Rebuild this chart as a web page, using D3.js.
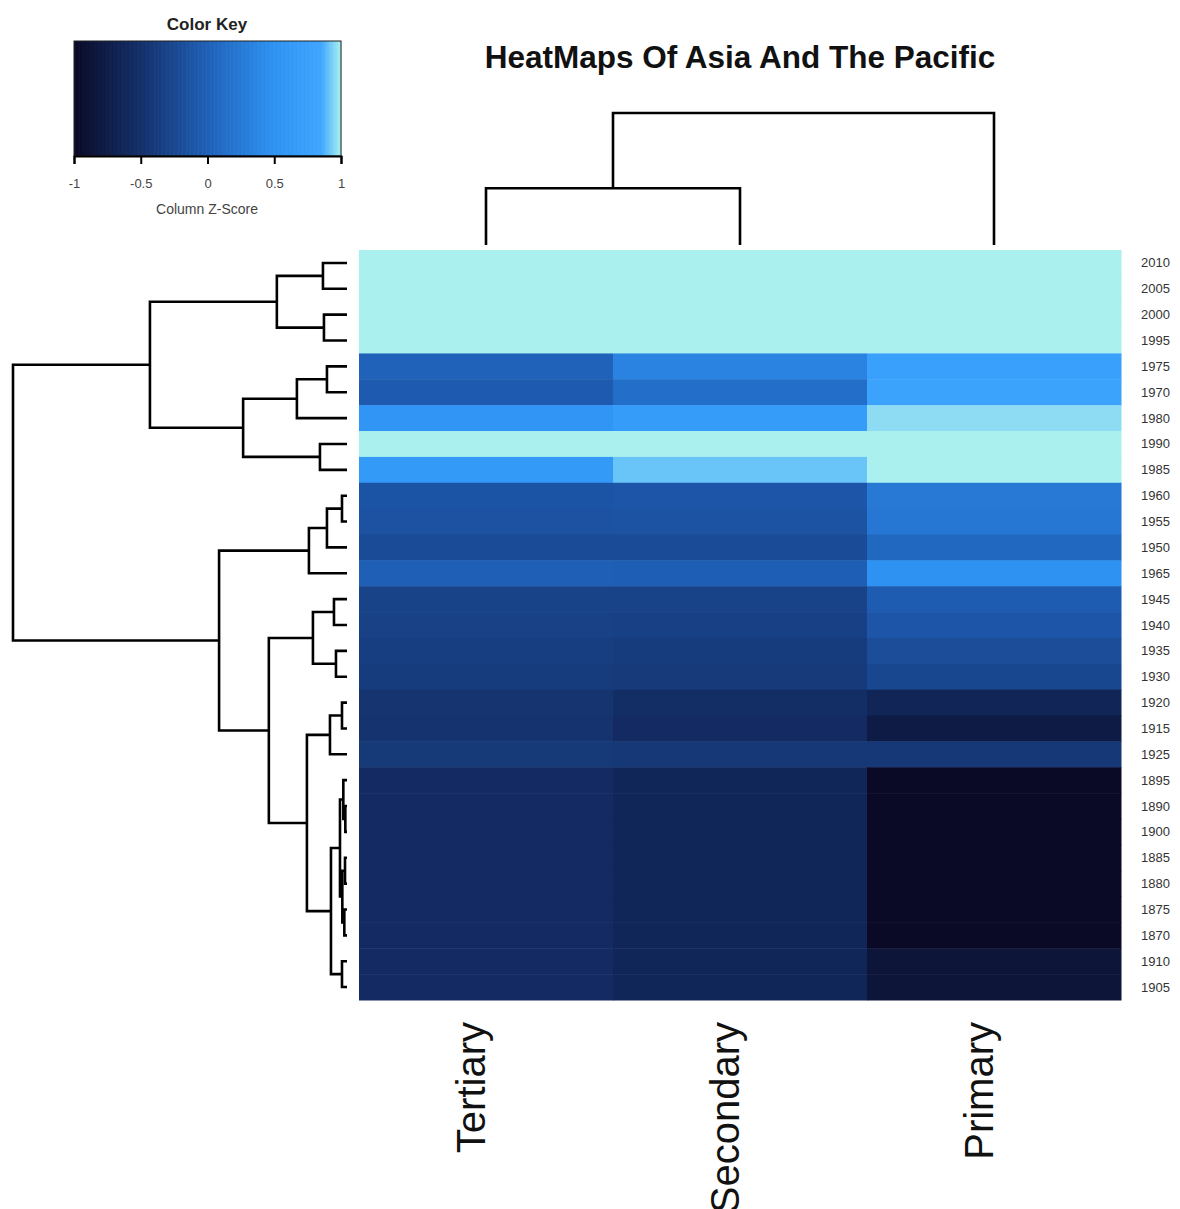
<!DOCTYPE html>
<html>
<head>
<meta charset="utf-8">
<script src="https://cdn.jsdelivr.net/npm/d3@7"></script>
<style>
  body { margin: 0; background: #fff; }
  text { font-family: "Liberation Sans", Arial, sans-serif; }
</style>
</head>
<body>
<div id="chart"></div>
<script>
// row order as shown (top to bottom), after clustering
const rowLabels = ["2010", "2005", "2000", "1995", "1975", "1970", "1980", "1990", "1985",
  "1960", "1955", "1950", "1965", "1945", "1940", "1935", "1930", "1920", "1915", "1925",
  "1895", "1890", "1900", "1885", "1880", "1875", "1870", "1910", "1905"];
const colLabels = ["Tertiary", "Secondary", "Primary"];

// column z-scores (clipped to the key range -1..1), same order as rowLabels
const tertiary = [1, 1, 1, 1, 0.02, -0.06, 0.55, 1, 0.64,
  -0.12, -0.15, -0.22, -0.01, -0.3, -0.32, -0.35, -0.38, -0.46, -0.47, -0.41,
  -0.56, -0.56, -0.56, -0.56, -0.56, -0.56, -0.56, -0.56, -0.56];
const secondary = [1, 1, 1, 1, 0.35, 0.14, 0.68, 1, 0.91,
  -0.1, -0.14, -0.22, -0.02, -0.3, -0.33, -0.38, -0.4, -0.54, -0.56, -0.42,
  -0.63, -0.63, -0.63, -0.63, -0.63, -0.63, -0.63, -0.63, -0.63];
const primary = [1, 1, 1, 1, 0.74, 0.8, 0.96, 1, 1,
  0.25, 0.23, 0.08, 0.5, -0.04, -0.1, -0.2, -0.26, -0.64, -0.78, -0.42,
  -1, -1, -1, -1, -1, -1, -1, -0.86, -0.86];

// row dendrogram merges: [left, right, height]; "mN" refers to merge N
const rowMerges = [
  ["2010", "2005", 0.72],  // m0
  ["2000", "1995", 0.69],  // m1
  ["m0", "m1", 2.10],      // m2
  ["1975", "1970", 0.60],  // m3
  ["m3", "1980", 1.50],    // m4
  ["1990", "1985", 0.81],  // m5
  ["m4", "m5", 3.11],      // m6
  ["m2", "m6", 5.90],      // m7
  ["1960", "1955", 0.15],  // m8
  ["m8", "1950", 0.60],    // m9
  ["m9", "1965", 1.14],    // m10
  ["1945", "1940", 0.39],  // m11
  ["1935", "1930", 0.33],  // m12
  ["m11", "m12", 1.02],    // m13
  ["1920", "1915", 0.15],  // m14
  ["m14", "1925", 0.51],   // m15
  ["1890", "1900", 0.05],  // m16
  ["1895", "m16", 0.11],   // m17
  ["1885", "1880", 0.06],  // m18
  ["1875", "1870", 0.08],  // m19
  ["m18", "m19", 0.14],    // m20
  ["m17", "m20", 0.21],    // m21
  ["1910", "1905", 0.15],  // m22
  ["m21", "m22", 0.48],    // m23
  ["m15", "m23", 1.20],    // m24
  ["m13", "m24", 2.34],    // m25
  ["m10", "m25", 3.83],    // m26
  ["m7", "m26", 10.0]      // m27
];

// column dendrogram merges
const colMerges = [
  ["Tertiary", "Secondary", 4.3], // m0
  ["m0", "Primary", 10.0]         // m1
];

const keyTicks = [-1, -0.5, 0, 0.5, 1];

const W = 1180;
const H = 1209;

const svg = d3.select("#chart")
  .append("svg")
  .attr("width", W)
  .attr("height", H);

// colour ramp read from the key
const color = d3.scaleLinear()
  .domain([-1, -0.5, 0, 0.5, 0.85, 1])
  .range(["#0a0a26", "#14306a", "#1f60b8", "#2e92f2", "#3ea6ff", "#aaf0ee"])
  .clamp(true);

// heatmap scales
const x = d3.scaleBand().domain(colLabels).range([359, 1121]);
const y = d3.scaleBand().domain(rowLabels).range([250, 1000]);

const values = { Tertiary: tertiary, Secondary: secondary, Primary: primary };
const cells = colLabels.flatMap((c) =>
  rowLabels.map((r, i) => ({ col: c, row: r, v: values[c][i] }))
);

svg.append("g")
  .selectAll("rect")
  .data(cells)
  .enter()
  .append("rect")
  .attr("x", (d) => x(d.col))
  .attr("y", (d) => y(d.row))
  .attr("width", x.bandwidth() + 0.5)
  .attr("height", y.bandwidth() + 0.5)
  .attr("fill", (d) => color(d.v));

// row labels
svg.append("g")
  .selectAll("text")
  .data(rowLabels)
  .enter()
  .append("text")
  .attr("x", 1141)
  .attr("y", (d) => y(d) + y.bandwidth() / 2)
  .attr("dominant-baseline", "central")
  .style("font-size", "13px")
  .style("fill", "#333")
  .text((d) => d);

// column labels, rotated
svg.append("g")
  .selectAll("text")
  .data(colLabels)
  .enter()
  .append("text")
  .attr("transform", (d) => `translate(${x(d) + x.bandwidth() / 2 - 1}, 1022) rotate(-90)`)
  .attr("text-anchor", "end")
  .style("font-size", "40px")
  .style("fill", "#111")
  .text((d) => d);

// dendrogram helper: returns merges with positions, given leaf position fn
function layoutMerges(merges, leafPos) {
  const nodes = [];
  const get = (key) =>
    key.startsWith("m") ? nodes[+key.slice(1)] : { pos: leafPos(key), h: 0 };
  merges.forEach(([a, b, h]) => {
    const na = get(a);
    const nb = get(b);
    nodes.push({ a: na, b: nb, h: h, pos: (na.pos + nb.pos) / 2 });
  });
  return nodes;
}

// row dendrogram (left)
const rowH = d3.scaleLinear().domain([0, 10]).range([347, 13]);
const rowNodes = layoutMerges(rowMerges, (k) => y(k) + y.bandwidth() / 2);

svg.append("g")
  .selectAll("path")
  .data(rowNodes)
  .enter()
  .append("path")
  .attr("d", (n) =>
    `M${rowH(n.a.h)},${n.a.pos}H${rowH(n.h)}V${n.b.pos}H${rowH(n.b.h)}`)
  .attr("fill", "none")
  .attr("stroke", "#000")
  .attr("stroke-width", 2.6);

// column dendrogram (top)
const colH = d3.scaleLinear().domain([0, 10]).range([245, 113]);
const colNodes = layoutMerges(colMerges, (k) => x(k) + x.bandwidth() / 2);

svg.append("g")
  .selectAll("path")
  .data(colNodes)
  .enter()
  .append("path")
  .attr("d", (n) =>
    `M${n.a.pos},${colH(n.a.h)}V${colH(n.h)}H${n.b.pos}V${colH(n.b.h)}`)
  .attr("fill", "none")
  .attr("stroke", "#000")
  .attr("stroke-width", 2.6);

// title
svg.append("text")
  .attr("x", 740)
  .attr("y", 68)
  .attr("text-anchor", "middle")
  .style("font-size", "31.5px")
  .style("font-weight", "bold")
  .style("fill", "#111")
  .text("HeatMaps Of Asia And The Pacific");

// colour key
const keyX = d3.scaleLinear().domain([-1, 1]).range([74, 341]);
const keyTop = 41;
const keyBottom = 156;
const steps = d3.range(-1, 1, 2 / 200);

const key = svg.append("g");

key.selectAll("rect")
  .data(steps)
  .enter()
  .append("rect")
  .attr("x", (d) => keyX(d))
  .attr("y", keyTop)
  .attr("width", (keyX(1) - keyX(-1)) / 200 + 0.6)
  .attr("height", keyBottom - keyTop)
  .attr("fill", (d) => color(d + 1 / 200));

key.append("rect")
  .attr("x", keyX(-1))
  .attr("y", keyTop)
  .attr("width", keyX(1) - keyX(-1))
  .attr("height", keyBottom - keyTop)
  .attr("fill", "none")
  .attr("stroke", "#222")
  .attr("stroke-width", 1);

const keyAxis = d3.axisBottom(keyX)
  .tickValues(keyTicks)
  .tickSize(8)
  .tickPadding(15)
  .tickFormat((d) => String(d));

const ka = key.append("g")
  .attr("transform", `translate(0, ${keyBottom})`)
  .call(keyAxis);

ka.select(".domain").attr("stroke", "#000").attr("stroke-width", 2);
ka.selectAll(".tick line").attr("stroke", "#000").attr("stroke-width", 2);
ka.selectAll(".tick text")
  .style("font-size", "13px")
  .style("fill", "#444")
  .style("font-family", "'Liberation Sans', Arial, sans-serif");

key.append("text")
  .attr("x", 207)
  .attr("y", 30)
  .attr("text-anchor", "middle")
  .style("font-size", "17px")
  .style("font-weight", "bold")
  .style("fill", "#222")
  .text("Color Key");

key.append("text")
  .attr("x", 207)
  .attr("y", 214)
  .attr("text-anchor", "middle")
  .style("font-size", "14px")
  .style("fill", "#444")
  .text("Column Z-Score");
</script>
</body>
</html>
